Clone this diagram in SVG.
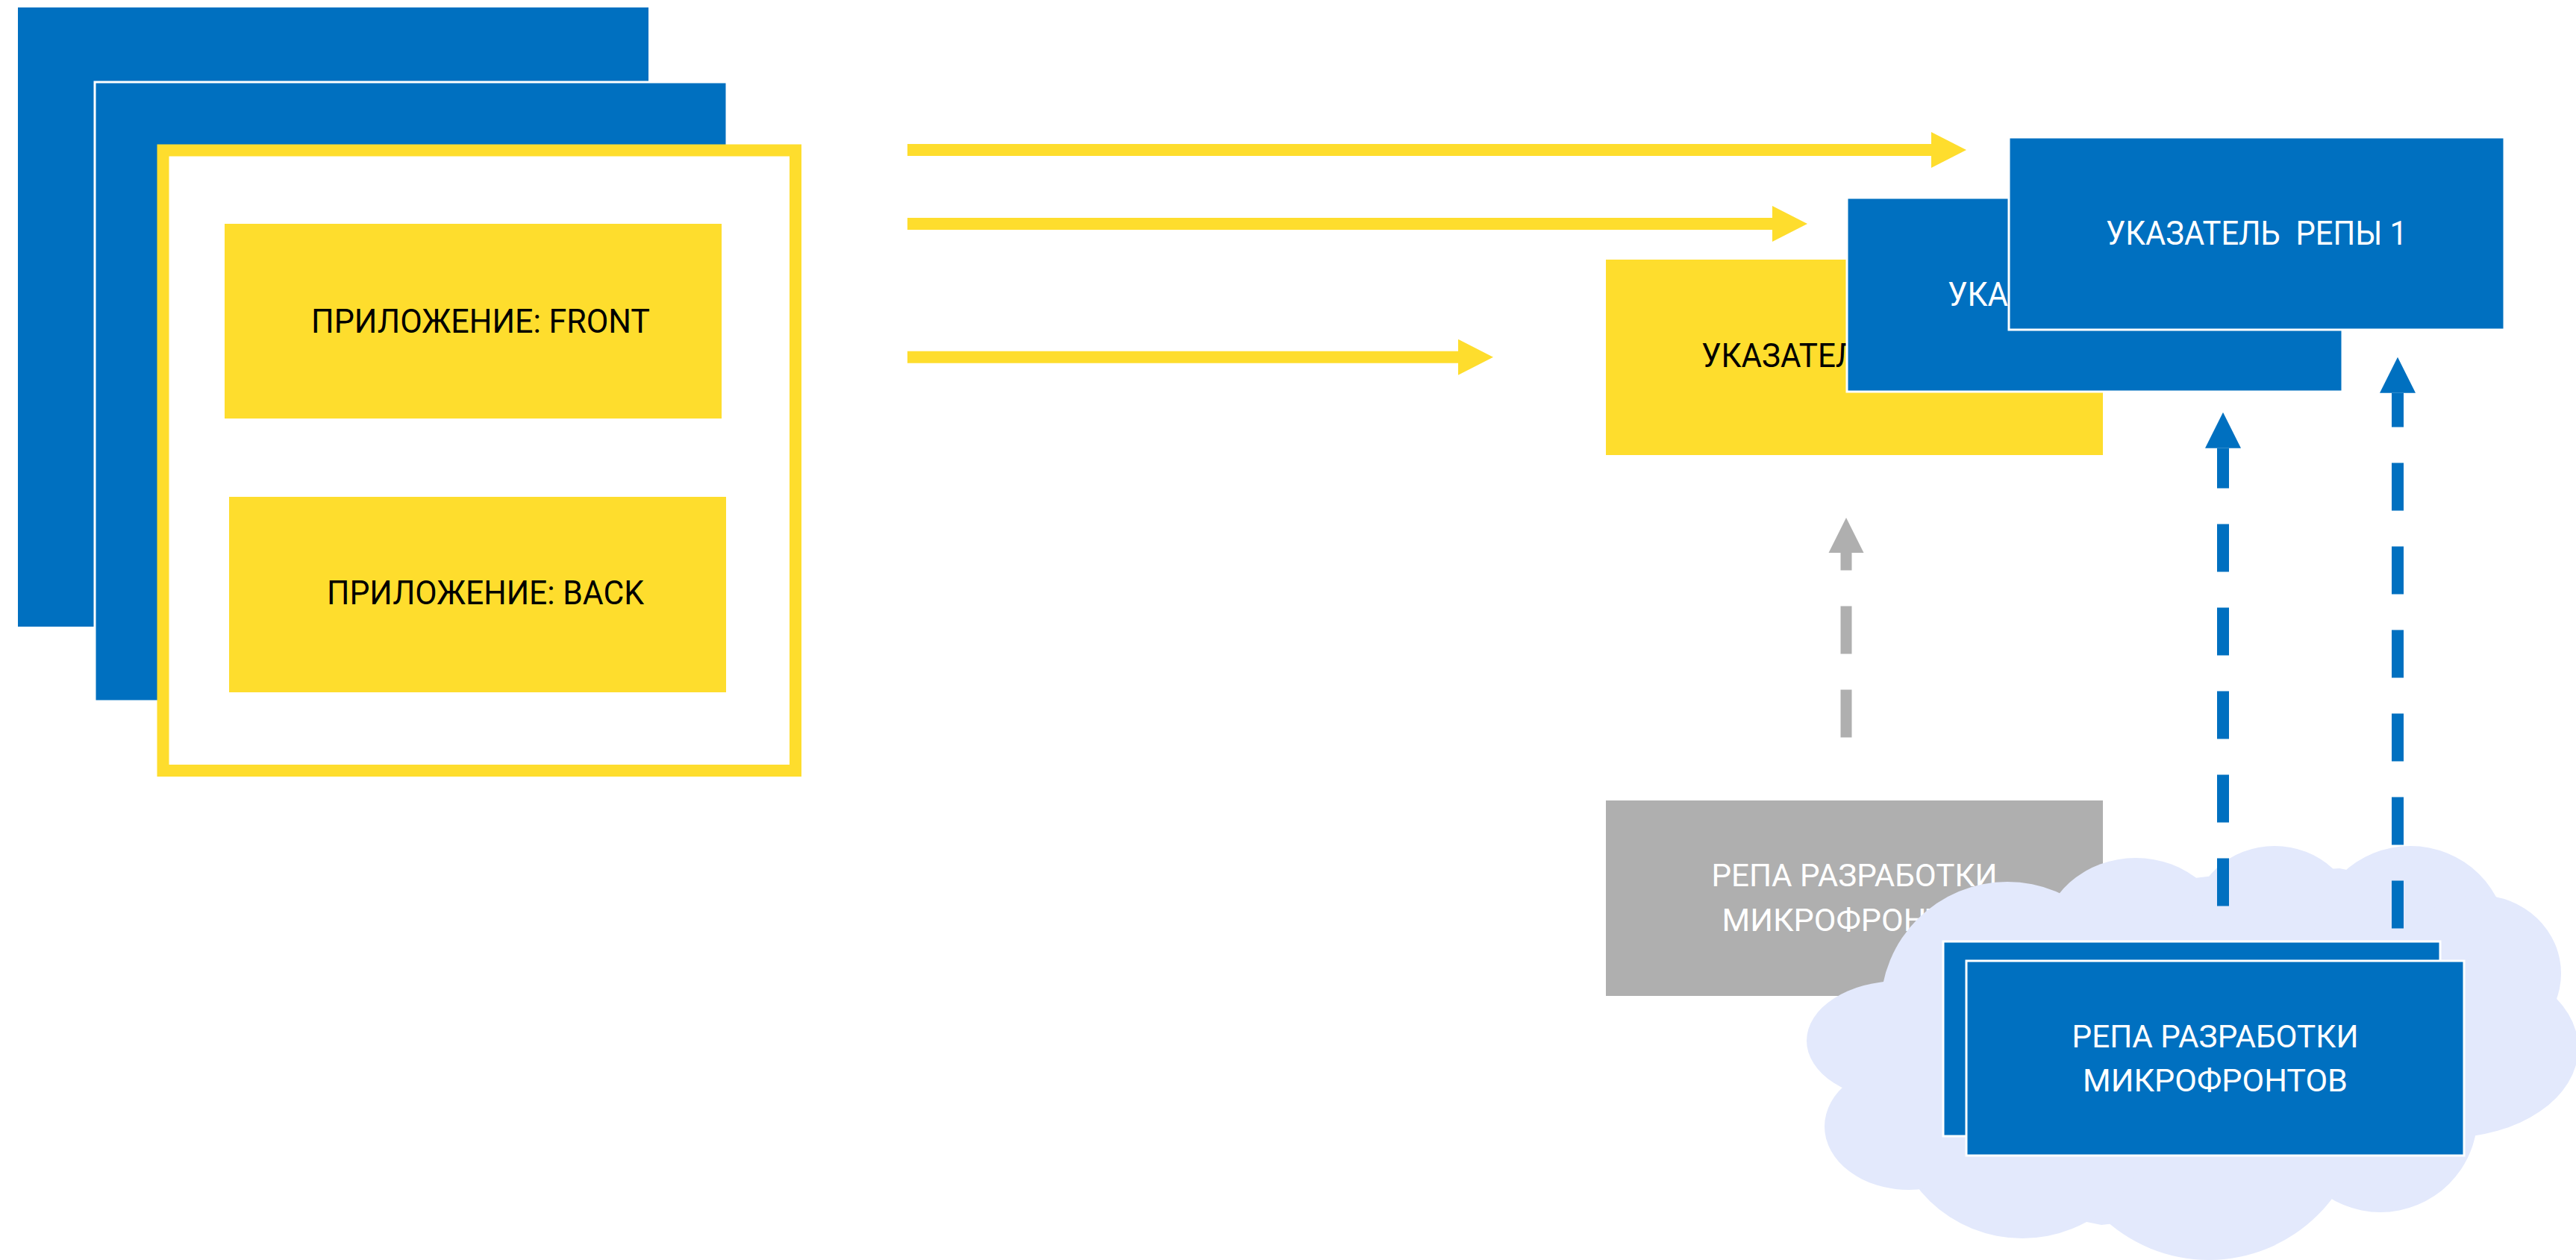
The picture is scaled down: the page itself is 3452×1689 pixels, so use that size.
<svg xmlns="http://www.w3.org/2000/svg" width="3452" height="1689" viewBox="0 0 3452 1689">
<style>
.blue{fill:#0070C0}
.bb{fill:#0070C0;stroke:#ffffff;stroke-width:3}
.yel{fill:#FEDD2D}
.gray{fill:#AFAFAF}
.frame{fill:#ffffff;stroke:#FEDD2D;stroke-width:16}
.t{font-family:Roboto,"Liberation Sans",sans-serif}
.tw{fill:#ffffff}
.tk{fill:#000000}
.cloud{fill:#E3E9FC}
.ya{stroke:#FEDD2D;stroke-width:16;fill:none}
.ba{stroke:#0070C0;stroke-width:16;stroke-dasharray:64 48;fill:none}
.ga{stroke:#AFAFAF;stroke-width:15;stroke-dasharray:64 48;fill:none}
</style>
<defs>
<marker id="hy" markerUnits="userSpaceOnUse" viewBox="0 0 48 48" markerWidth="48" markerHeight="48" refX="0" refY="24" orient="auto"><path d="M0,0 L47,24 L0,48 Z" fill="#FEDD2D"/></marker>
<marker id="hb" markerUnits="userSpaceOnUse" viewBox="0 0 48 48" markerWidth="48" markerHeight="48" refX="0" refY="24" orient="auto"><path d="M0,0 L48,24 L0,48 Z" fill="#0070C0"/></marker>
<marker id="hg" markerUnits="userSpaceOnUse" viewBox="0 0 48 48" markerWidth="48" markerHeight="48" refX="0" refY="24" orient="auto"><path d="M0,0.5 L47,24 L0,47.5 Z" fill="#AFAFAF"/></marker>
</defs>

<g id="app-stack-back"><rect class="blue" x="24" y="10" width="845" height="830"/></g>
<g id="app-stack-middle"><rect class="bb" x="127" y="110" width="847" height="830"/></g>
<g id="app-frame"><rect class="frame" x="218.5" y="201.5" width="847.5" height="831.5"/></g>
<g id="app-front">
<rect class="yel" x="301" y="300" width="666" height="261"/>
<text class="t tk" x="644" y="446" font-size="45" text-anchor="middle" textLength="454" lengthAdjust="spacingAndGlyphs">ПРИЛОЖЕНИЕ: FRONT</text>
</g>
<g id="app-back">
<rect class="yel" x="307" y="666" width="666" height="262"/>
<text class="t tk" x="650.5" y="810" font-size="45" text-anchor="middle" textLength="425" lengthAdjust="spacingAndGlyphs">ПРИЛОЖЕНИЕ: BACK</text>
</g>

<g id="pointer-3">
<rect class="yel" x="2152" y="348" width="666" height="262"/>
<text class="t tk" x="2280" y="492" font-size="44" textLength="408" lengthAdjust="spacingAndGlyphs" style="white-space:pre">УКАЗАТЕЛЬ  РЕПЫ 3</text>
</g>
<g id="pointer-2">
<rect class="bb" x="2475" y="265" width="664" height="260"/>
<text class="t tw" x="2610" y="410" font-size="44" textLength="408" lengthAdjust="spacingAndGlyphs" style="white-space:pre">УКАЗАТЕЛЬ  РЕПЫ 2</text>
</g>
<g id="pointer-1">
<rect class="bb" x="2692" y="184" width="664" height="258"/>
<text class="t tw" x="3024" y="328" font-size="44" text-anchor="middle" textLength="404" lengthAdjust="spacingAndGlyphs" style="white-space:pre">УКАЗАТЕЛЬ  РЕПЫ 1</text>
</g>

<g id="repo-gray">
<rect class="gray" x="2152" y="1073" width="666" height="262"/>
<text class="t tw" x="2485" y="1188" font-size="43" text-anchor="middle" textLength="383" lengthAdjust="spacingAndGlyphs">РЕПА РАЗРАБОТКИ</text>
<text class="t tw" x="2485" y="1248" font-size="43" text-anchor="middle" textLength="355" lengthAdjust="spacingAndGlyphs">МИКРОФРОНТОВ</text>
</g>

<g id="cloud" class="cloud">
<polygon points="2514,1321 2757,1199 2958,1175 3135,1164 3337,1205 3422,1333 3316,1523 3104,1609 2816,1642 2561,1591 2472,1462"/>
<circle cx="2690" cy="1352" r="170"/>
<ellipse cx="2862" cy="1262" rx="125" ry="112"/>
<ellipse cx="3048" cy="1236" rx="110" ry="102"/>
<ellipse cx="3230" cy="1262" rx="130" ry="128"/>
<ellipse cx="3322" cy="1305" rx="110" ry="105"/>
<ellipse cx="3280" cy="1405" rx="175" ry="120"/>
<circle cx="3190" cy="1495" r="130"/>
<circle cx="2960" cy="1482" r="207"/>
<ellipse cx="2710" cy="1490" rx="175" ry="170"/>
<ellipse cx="2558" cy="1510" rx="113" ry="85"/>
<ellipse cx="2545" cy="1395" rx="124" ry="80"/>
</g>

<g id="repo-blue-back"><rect class="bb" x="2604" y="1262" width="666" height="261"/></g>
<g id="repo-blue-front">
<rect class="bb" x="2635" y="1288" width="667" height="261"/>
<text class="t tw" x="2968.5" y="1404" font-size="43" text-anchor="middle" textLength="384" lengthAdjust="spacingAndGlyphs">РЕПА РАЗРАБОТКИ</text>
<text class="t tw" x="2968.5" y="1462.5" font-size="43" text-anchor="middle" textLength="355" lengthAdjust="spacingAndGlyphs">МИКРОФРОНТОВ</text>
</g>

<g id="connectors">
<line class="ya" x1="1216" y1="201" x2="2588" y2="201" marker-end="url(#hy)"/>
<line class="ya" x1="1216" y1="300" x2="2375" y2="300" marker-end="url(#hy)"/>
<line class="ya" x1="1216" y1="478.7" x2="1954" y2="478.7" marker-end="url(#hy)"/>
<line class="ga" x1="2474" y1="988.6" x2="2474" y2="741" marker-end="url(#hg)"/>
<line class="ba" x1="2979" y1="1214.6" x2="2979" y2="600.7" marker-end="url(#hb)"/>
<line class="ba" x1="3213" y1="1244.4" x2="3213" y2="526.7" marker-end="url(#hb)"/>
</g>
</svg>
